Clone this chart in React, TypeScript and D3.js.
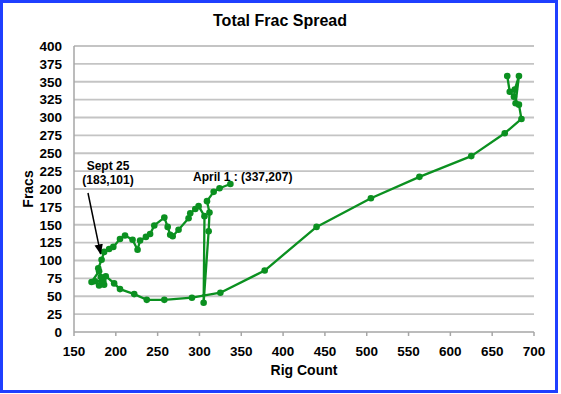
import React from "react";
import * as d3 from "d3";

const WIDTH = 561;
const HEIGHT = 394;

// rig count (x) and frac spread count (y), in time order
const rigs = [
  668, 671, 676, 677, 682, 678, 682, 685, 665, 625, 563, 505, 440, 378, 325,
  291, 258, 237, 222, 205, 198, 188, 186, 180, 182, 185, 175, 171, 180, 179,
  183, 186, 192, 197, 205, 211, 220, 226, 229, 236, 241, 246, 258, 262, 265,
  268, 275, 287, 289, 295, 299, 306, 305, 311, 312, 309, 317, 324, 337,
];
const fracs = [
  358, 336, 329, 339, 358, 320, 318, 298, 278, 246, 217, 187, 147, 86, 55, 48,
  45, 45, 53, 60, 68, 78, 66, 65, 77, 71, 71, 70, 85, 89, 101, 112, 116, 119,
  130, 135, 129, 115, 128, 133, 137, 149, 160, 147, 136, 134, 143, 159, 166,
  172, 176, 162, 41, 141, 167, 183, 196, 201, 207,
];

const xTicks = d3.range(150, 701, 50);
const yTicks = d3.range(0, 401, 25);

const FONT = "'Liberation Sans', Arial, sans-serif";
const GREEN = "#0b9020";

export default function App() {
  const x = d3.scaleLinear().domain([150, 700]).range([74, 534]);
  const y = d3.scaleLinear().domain([0, 400]).range([332, 46]);

  const points = rigs.map((r, i) => [x(r), y(fracs[i])] as [number, number]);
  const path = d3.line()(points) || "";

  const sept = [x(183), y(101)];

  return (
    <div style={{ position: "absolute", left: 0, top: 0 }}>
      <svg width={WIDTH} height={HEIGHT} style={{ display: "block" }} fontFamily={FONT}>
        <defs>
          <marker
            id="arrow"
            viewBox="0 0 10 10"
            refX="9"
            refY="5"
            markerWidth="7"
            markerHeight="7"
            orient="auto"
          >
            <path d="M0,1 L10,5 L0,9 z" fill="#000" />
          </marker>
        </defs>
        <rect x={0} y={0} width={WIDTH} height={HEIGHT} fill="#fff" />

        <text x={280} y={26} textAnchor="middle" fontSize={16} fontWeight="bold">
          Total Frac Spread
        </text>

        {yTicks.map((t) => (
          <g key={t}>
            {t > 0 && (
              <line x1={x(150)} x2={x(700)} y1={y(t)} y2={y(t)} stroke="#c4c4c4" strokeWidth={1.8} />
            )}
            <text x={62} y={y(t)} dy="0.36em" textAnchor="end" fontSize={13.5} fontWeight="bold">
              {t}
            </text>
          </g>
        ))}

        <line x1={x(150)} x2={x(150)} y1={y(400)} y2={y(0)} stroke="#a6a6a6" strokeWidth={1.5} />
        <line x1={x(150)} x2={x(700)} y1={y(0)} y2={y(0)} stroke="#a6a6a6" strokeWidth={1.5} />
        {xTicks.map((t) => (
          <g key={t}>
            <line x1={x(t)} x2={x(t)} y1={y(0)} y2={y(0) + 4} stroke="#a6a6a6" strokeWidth={1.5} />
            <text x={x(t)} y={356} textAnchor="middle" fontSize={13.5} fontWeight="bold">
              {t}
            </text>
          </g>
        ))}

        <text x={304} y={375} textAnchor="middle" fontSize={14} fontWeight="bold">
          Rig Count
        </text>
        <text
          transform={`translate(33 ${y(200)}) rotate(-90)`}
          textAnchor="middle"
          fontSize={14}
          fontWeight="bold"
        >
          Fracs
        </text>

        <path d={path} fill="none" stroke={GREEN} strokeWidth={2.3} strokeLinejoin="round" />
        {points.map(([px, py], i) => (
          <circle key={i} cx={px} cy={py} r={3.3} fill={GREEN} />
        ))}

        <text x={108} y={170} textAnchor="middle" fontSize={12} fontWeight="bold">
          Sept 25
        </text>
        <text x={108} y={184} textAnchor="middle" fontSize={12} fontWeight="bold">
          (183,101)
        </text>
        <line
          x1={88}
          y1={193}
          x2={sept[0] - 1}
          y2={sept[1] - 6}
          stroke="#000"
          strokeWidth={1.5}
          markerEnd="url(#arrow)"
        />

        <text x={193} y={181} fontSize={12} fontWeight="bold">
          April 1 : (337,207)
        </text>

        <rect
          x={1.5}
          y={1.5}
          width={555}
          height={390}
          fill="none"
          stroke="#1f3fff"
          strokeWidth={3}
        />
      </svg>
    </div>
  );
}
